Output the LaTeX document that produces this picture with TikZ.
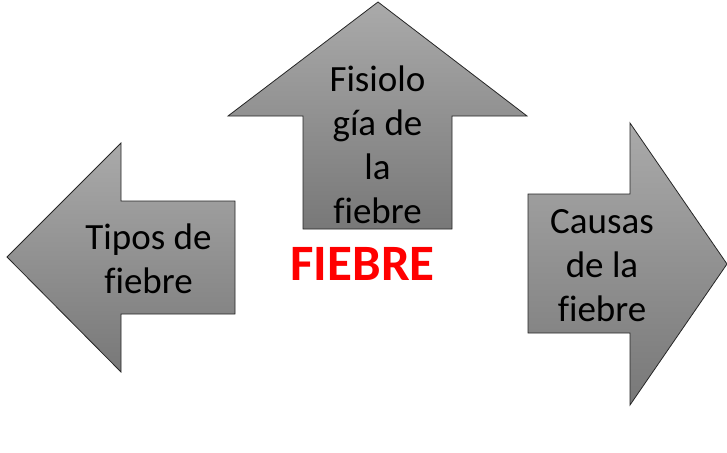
\documentclass[tikz,border=0pt]{standalone}
\usepackage{fontspec}
\setmainfont[Ligatures=NoCommon]{Carlito}
\usetikzlibrary{shadings}

\definecolor{grisclaro}{RGB}{170,170,170}
\definecolor{grisoscuro}{RGB}{120,120,120}
\definecolor{rojo}{RGB}{255,0,0}

\tikzset{
  flecha/.style={draw=black!85, line width=0.8pt, line join=miter,
    top color=grisclaro, bottom color=grisoscuro},
  rotulo/.style={align=center, font=\fontsize{37}{44}\selectfont, inner sep=0pt}
}

\begin{document}
\begin{tikzpicture}[x=1pt,y=-1pt]
\useasboundingbox (0,0) rectangle (727,452);
% flecha izquierda
\draw[flecha] (7,257) -- (121,143) -- (121,201) -- (235,201) -- (235,314)
  -- (121,314) -- (121,372) -- cycle;
% flecha arriba
\draw[flecha] (378,2) -- (527,116) -- (452,116) -- (452,229) -- (303,229)
  -- (303,116) -- (228,116) -- cycle;
% flecha derecha
\draw[flecha] (727,264) -- (630,405) -- (630,333) -- (528,333) -- (528,194)
  -- (630,194) -- (630,123) -- cycle;
\node[rotulo] (tipos) at (148.5,259) {Tipos de\\fiebre};
\node[rotulo] (fisio) at (377.5,145) {Fisiolo\\gía de\\la\\fiebre};
\node[rotulo] (causas) at (602,266) {Causas\\de la\\fiebre};
\node[anchor=base, inner sep=0pt, text=rojo, font=\fontsize{51}{60}\selectfont\bfseries]
  (fiebre) at (362.5,280) {FIEBRE};
\end{tikzpicture}
\end{document}
